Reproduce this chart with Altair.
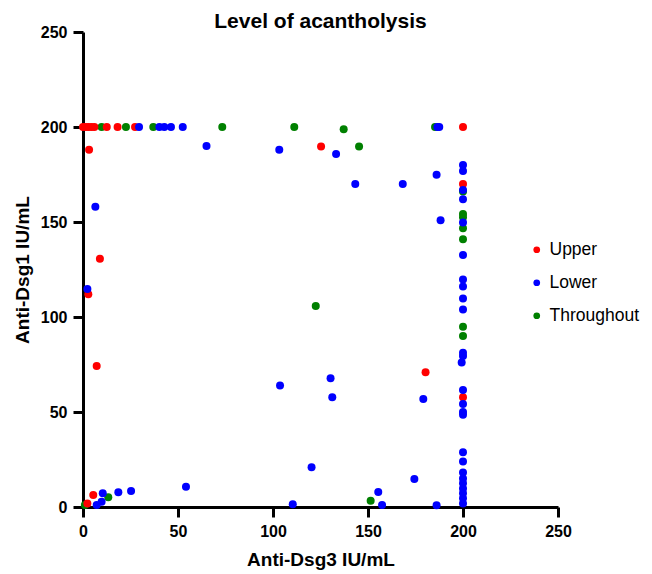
import altair as alt
import pandas as pd

# Upper (red)
upper_x = [0, 1.5, 3, 4.5, 6, 12.5, 18.2, 27.4, 200, 3.2, 125.3, 200, 8.9, 2.8, 7.2, 180.3, 200, 5.4, 2.3]
upper_y = [200, 200, 200, 200, 200, 200, 200, 200, 200, 188, 189.8, 170, 130.7, 112, 74.2, 70.9, 57.7, 6.3, 1.9]

# Lower (blue)
lower_x = [29.5, 40.2, 42.8, 46.3, 52.5, 186.5, 187.5,
           65, 103.3, 133.2, 143.3, 168.3, 186.1, 188.2, 6.5, 2.3,
           200, 200, 200, 200, 200, 200, 200, 200, 200, 200, 200, 200, 200,
           200, 200, 200, 200, 200, 200, 200, 200, 200, 200, 200, 200, 199.3,
           103.7, 130.3, 131.2, 179.1, 120.3, 174.4, 155.4, 157.4, 110.4, 186.1,
           54.2, 25.3, 18.6, 10.4, 9.8, 7.2]
lower_y = [200, 200, 200, 200, 200, 200, 200,
           190, 188, 185.8, 170, 170, 174.9, 150.9, 158, 114.7,
           180, 176.8, 166.8, 162, 149.8, 132.6, 119.8, 116, 109.8, 104, 81.2, 79.5, 61.6,
           54.2, 50, 48.5, 28.8, 23.9, 18.1, 15, 12.5, 9.8, 7.2, 4.6, 1.9, 76,
           63.9, 67.7, 57.7, 56.8, 20.9, 14.7, 7.9, 1, 1.4, 0.9,
           10.7, 8.4, 7.7, 7.2, 2.8, 1]

# Throughout (green)
through_x = [9.8, 22.6, 37, 73.3, 111.2, 185.3, 137.2, 145.3, 200, 200, 200, 200, 200, 200, 200, 122.5, 151.4, 13.3, 1]
through_y = [200, 200, 200, 200, 200, 200, 198.8, 189.8, 166, 154.2, 152.5, 146.7, 140.9, 94.9, 90, 105.8, 3.3, 5.1, 1]

groups = ["Upper", "Lower", "Throughout"]
colors = ["#FF0000", "#0000FF", "#008000"]
ticks = [0, 50, 100, 150, 200, 250]

rows = []
for g, xs, ys, z in [("Throughout", through_x, through_y, 0),
                     ("Upper", upper_x, upper_y, 1),
                     ("Lower", lower_x, lower_y, 2)]:
    for a, b in zip(xs, ys):
        rows.append({"dsg3": a, "dsg1": b, "level": g, "z": z})
df = pd.DataFrame(rows)

font = "Liberation Sans"

chart = alt.Chart(df).mark_circle(size=64, opacity=1, clip=False).encode(
    x=alt.X("dsg3:Q", title="Anti-Dsg3 IU/mL",
            scale=alt.Scale(domain=[0, 250], nice=False, zero=True),
            axis=alt.Axis(values=ticks, grid=False, titlePadding=11)),
    y=alt.Y("dsg1:Q", title="Anti-Dsg1 IU/mL",
            scale=alt.Scale(domain=[0, 250], nice=False, zero=True),
            axis=alt.Axis(values=ticks, grid=False, titlePadding=8)),
    color=alt.Color("level:N", scale=alt.Scale(domain=groups, range=colors),
                    legend=alt.Legend(title=None, orient="none", legendX=445, legendY=209,
                                      symbolSize=45, symbolType="circle",
                                      labelFontSize=17.5, labelFont=font, labelColor="black",
                                      labelOffset=4, rowPadding=14, labelLimit=200)),
    order=alt.Order("z:Q"),
).properties(
    width=475, height=475,
    title=alt.TitleParams("Level of acantholysis", fontSize=21, font=font,
                          fontWeight="bold", anchor="middle", offset=-8, color="black"),
    autosize=alt.AutoSizeParams(type="none"),
    padding={"left": 75, "top": 24, "right": 86, "bottom": 64},
).configure_view(stroke=None).configure_axis(
    domainColor="black", domainWidth=3, tickColor="black", tickWidth=3, tickSize=10,
    labelFont=font, labelFontSize=16, labelFontWeight="bold", labelColor="black",
    labelPadding=6, titleFont=font, titleFontSize=19, titleFontWeight="bold",
    titleColor="black", labelFlush=False,
)

chart.save("out.html", embed_options={"renderer": "svg", "actions": False})
